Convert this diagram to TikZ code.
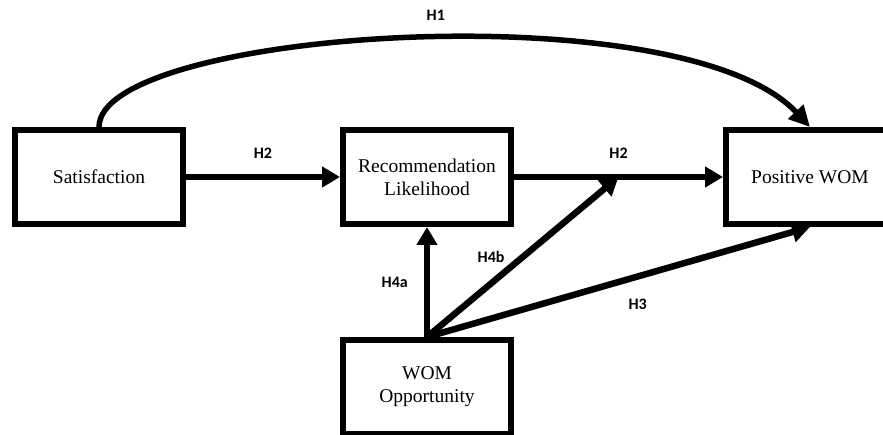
\documentclass[tikz,border=0pt]{standalone}
\usepackage{fontspec}
\setmainfont{Liberation Serif}
\newfontfamily\lblfont{Carlito}
\usepackage{tikz}
\usetikzlibrary{arrows.meta,positioning,shadows,calc}

\begin{document}
\begin{tikzpicture}[
  x=1pt, y=1pt,
  box/.style={rectangle, draw=black, fill=white, line width=6pt, align=center,
    minimum width=168pt, minimum height=94pt,
    font=\fontsize{19.5}{23}\selectfont,
    drop shadow={shadow xshift=2pt, shadow yshift=-2pt, opacity=0.25}},
  arrow/.style={-{Triangle[length=18pt,width=20pt]}, line width=6.5pt},
  curved/.style={-{Triangle[length=21pt,width=20pt]}, line width=5.5pt},
  lbl/.style={font=\lblfont\bfseries\fontsize{16}{19}\selectfont, inner sep=0pt}
]
\useasboundingbox (0,0) rectangle (883,435);

\node[box] (sat) at (99,258) {Satisfaction};
\node[box, right=154pt of sat] (rl) {Recommendation\\Likelihood};
\node[box, right=209pt of rl] (pw) {Positive WOM};
\node[box, below=110pt of rl] (wom) {WOM\\Opportunity};

\coordinate (mid) at ($(rl.east)!0.5!(pw.west)$);

\draw[curved] (sat.north) .. controls +(0,97) and +(-128,137) .. node[lbl, pos=0.53, above=15pt] {H1} (pw.north);
\draw[arrow] (sat) -- node[lbl, above=15pt] {H2} (rl);
\draw[arrow] (rl) -- node[lbl, above=15pt] {H2} (pw);
\draw[arrow] (wom.north) -- node[lbl, left=16pt] {H4a} (rl.south);
\draw[arrow] (wom.north) -- node[lbl, left=15pt] {H4b} (mid);
\draw[arrow] (wom.north) -- node[lbl, pos=0.55, below=19pt] {H3} (pw.south);
\end{tikzpicture}
\end{document}
